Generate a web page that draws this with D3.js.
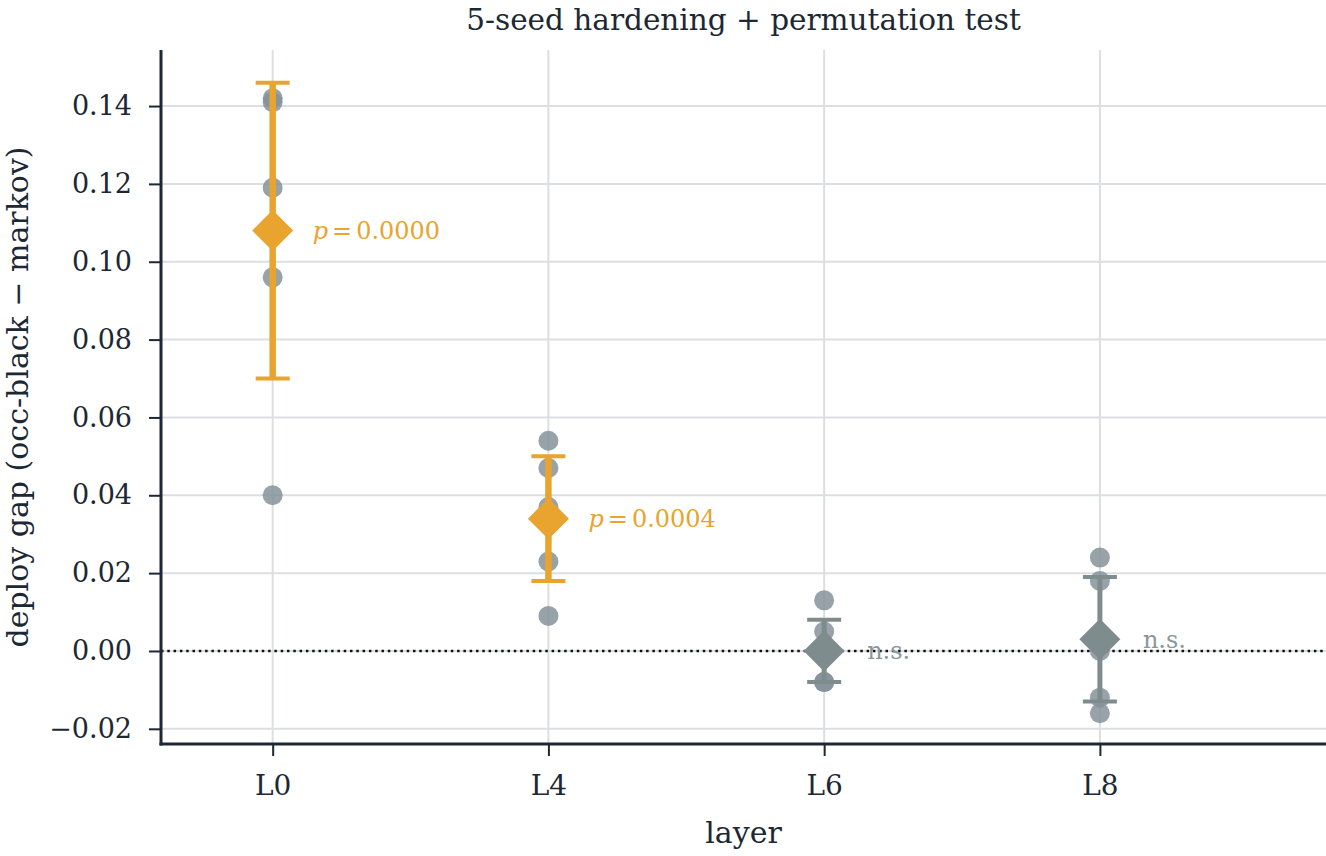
<!DOCTYPE html>
<html>
<head>
<meta charset="utf-8">
<script src="https://cdn.jsdelivr.net/npm/d3@7"></script>
<style>
  html, body { margin: 0; padding: 0; background: #fff; }
  svg { display: block; }
</style>
</head>
<body>
<div id="chart"></div>
<script>
// chart data
const layers = ['L0', 'L4', 'L6', 'L8'];
const seedGaps = [
  [0.142, 0.141, 0.119, 0.096, 0.040],
  [0.054, 0.047, 0.037, 0.023, 0.009],
  [0.013, 0.005, 0.000, -0.008, -0.008],
  [0.024, 0.018, 0.000, -0.012, -0.016]
];
const meanGaps = [0.108, 0.034, 0.000, 0.003];
const ciHalf = [0.038, 0.016, 0.008, 0.016];
const pValues = ['0.0000', '0.0004', null, null];
const yTicks = [-0.02, 0.00, 0.02, 0.04, 0.06, 0.08, 0.10, 0.12, 0.14];

const W = 1326, H = 856;
const margin = { top: 50, right: 0, bottom: 112, left: 161 };
const width = W - margin.left - margin.right;
const height = H - margin.top - margin.bottom;

const ORANGE = '#e8a42f';
const GREY = '#7f8c8d';
const POINT = '#85929a';
const INK = '#1c2833';
const GRID = '#dcdfe2';
const serif = '"DejaVu Serif", serif';

const svg = d3.select('#chart')
  .append('svg')
  .attr('width', W)
  .attr('height', H);

const g = svg.append('g')
  .attr('transform', `translate(${margin.left},${margin.top})`);

// scales
const x = d3.scaleLinear()
  .domain([-0.405, 3.82])
  .range([0, width]);

const y = d3.scaleLinear()
  .domain([-0.0239, 0.1544])
  .range([height, 0]);

const idx = layers.map((d, i) => i);

// grid
g.append('g')
  .selectAll('line')
  .data(yTicks)
  .join('line')
  .attr('x1', 0).attr('x2', width)
  .attr('y1', d => y(d)).attr('y2', d => y(d))
  .attr('stroke', GRID).attr('stroke-width', 2);

g.append('g')
  .selectAll('line')
  .data(idx)
  .join('line')
  .attr('x1', d => x(d)).attr('x2', d => x(d))
  .attr('y1', 0).attr('y2', height)
  .attr('stroke', GRID).attr('stroke-width', 2);

// zero reference
g.append('line')
  .attr('x1', 0).attr('x2', width)
  .attr('y1', y(0)).attr('y2', y(0))
  .attr('stroke', '#111').attr('stroke-width', 2.5)
  .attr('stroke-dasharray', '2.5,3.8');

// axes
const yAxis = g.append('g')
  .call(d3.axisLeft(y).tickValues(yTicks).tickSize(12).tickPadding(17)
    .tickFormat(d => d3.format('.2f')(d).replace('-', '\u2212')));
const xAxis = g.append('g')
  .attr('transform', `translate(0,${height})`)
  .call(d3.axisBottom(x).tickValues(idx).tickSize(12).tickPadding(19)
    .tickFormat(i => layers[i]));

[yAxis, xAxis].forEach(ax => {
  ax.select('.domain').remove();
  ax.selectAll('line').attr('stroke', INK).attr('stroke-width', 2);
  ax.selectAll('text').attr('fill', INK).style('font-family', serif);
});
yAxis.selectAll('text').style('font-size', '27px');
xAxis.selectAll('text').style('font-size', '28px');

// spines
g.append('line')
  .attr('x1', 0).attr('x2', 0).attr('y1', 0).attr('y2', height + 1.5)
  .attr('stroke', INK).attr('stroke-width', 3);
g.append('line')
  .attr('x1', -1.5).attr('x2', width).attr('y1', height).attr('y2', height)
  .attr('stroke', INK).attr('stroke-width', 3);

// per-seed points
const seedPts = idx.flatMap(i => seedGaps[i].map(v => ({ i, v })));
g.append('g')
  .selectAll('circle')
  .data(seedPts)
  .join('circle')
  .attr('cx', d => x(d.i))
  .attr('cy', d => y(d.v))
  .attr('r', 10)
  .attr('fill', POINT)
  .attr('fill-opacity', 0.85);

// error bars and means
const capHalf = 17;
idx.forEach(i => {
  const sig = pValues[i] !== null;
  const col = sig ? ORANGE : GREY;
  const lw = sig ? 6.5 : 5;
  const cx = x(i);
  const eb = g.append('g');
  eb.append('line')
    .attr('x1', cx).attr('x2', cx)
    .attr('y1', y(meanGaps[i] - ciHalf[i])).attr('y2', y(meanGaps[i] + ciHalf[i]))
    .attr('stroke', col).attr('stroke-width', lw);
  [-1, 1].forEach(s => {
    eb.append('line')
      .attr('x1', cx - capHalf).attr('x2', cx + capHalf)
      .attr('y1', y(meanGaps[i] + s * ciHalf[i])).attr('y2', y(meanGaps[i] + s * ciHalf[i]))
      .attr('stroke', col).attr('stroke-width', 4);
  });
  eb.append('path')
    .attr('d', d3.symbol(d3.symbolSquare, 2 * 20.5 * 20.5)())
    .attr('transform', `translate(${cx},${y(meanGaps[i])}) rotate(45)`)
    .attr('fill', col);

  const label = g.append('text')
    .attr('x', cx + (sig ? 40 : 43))
    .attr('y', y(meanGaps[i]))
    .attr('dy', '0.35em')
    .attr('fill', sig ? ORANGE : '#8a979c')
    .style('font-family', serif)
    .style('font-size', '24px');
  if (sig) {
    label.append('tspan').style('font-style', 'italic').text('p');
    label.append('tspan').attr('dx', 4).text('=');
    label.append('tspan').attr('dx', 4).text(pValues[i]);
  } else {
    label.text('n.s.');
  }
});

// titles
svg.append('text')
  .attr('x', margin.left + width / 2)
  .attr('y', 30)
  .attr('text-anchor', 'middle')
  .attr('fill', INK)
  .style('font-family', serif)
  .style('font-size', '29.5px')
  .text('5-seed hardening + permutation test');

svg.append('text')
  .attr('x', margin.left + width / 2)
  .attr('y', 843)
  .attr('text-anchor', 'middle')
  .attr('fill', INK)
  .style('font-family', serif)
  .style('font-size', '30px')
  .text('layer');

svg.append('text')
  .attr('transform', `translate(28,${margin.top + height / 2}) rotate(-90)`)
  .attr('text-anchor', 'middle')
  .attr('fill', INK)
  .style('font-family', serif)
  .style('font-size', '30px')
  .text('deploy gap (occ-black \u2212 markov)');
</script>
</body>
</html>
